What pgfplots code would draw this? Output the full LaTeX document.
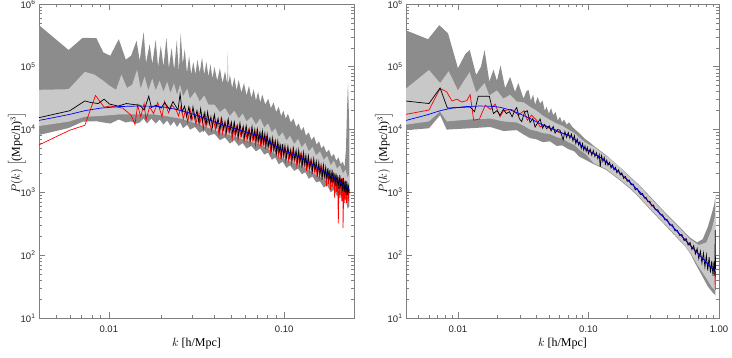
\documentclass[border=0pt]{standalone}
\usepackage{fontspec}
\setmainfont{Liberation Serif}
\newfontfamily\tickfont{Liberation Sans}
\usepackage{pgfplots}
\pgfplotsset{compat=1.18}
\usepgfplotslibrary{fillbetween}
\definecolor{bandout}{HTML}{8C8C8C}
\definecolor{bandin}{HTML}{C8C8C8}
\definecolor{frame}{HTML}{7F7F7F}
\pgfplotsset{
  pkaxis/.style={
    scale only axis, height=314pt,
    ymin=10, ymax=1e6,
    axis line style={frame, line width=0.7pt},
    tick style={frame, line width=0.6pt},
    major tick length=6pt, minor tick length=3.5pt,
    tick label style={font=\tickfont\fontsize{9.5}{10}\selectfont, black!85,
      /pgf/number format/assume math mode=true},
    xticklabel={\tickfont\pgfmathparse{exp(\tick)}\pgfmathprintnumber[fixed, fixed zerofill, precision=2]{\pgfmathresult}},
    yticklabel={\tickfont 10\textsuperscript{\pgfmathparse{int(round(\tick/ln(10)))}\pgfmathresult}},
    xticklabel style={yshift=-4pt},
    xlabel={$k$ [h/Mpc]},
    ylabel={$P(k)$ $\Bigl[$(Mpc/h)$^{3}\Bigr]$},
    label style={font=\fontsize{12}{14}\selectfont, inner sep=0pt},
    xlabel style={at={(axis description cs:0.5,-0.083)}, anchor=center},
    ylabel style={at={(axis description cs:-0.07,0.525)}, anchor=center},
    every axis plot/.append style={line width=0.7pt},
  }
}
\begin{document}
\begin{tikzpicture}
% ---------------- left panel ----------------
\begin{loglogaxis}[pkaxis, at={(39pt,39pt)}, anchor=south west, width=315pt,
  xmin=0.004, xmax=0.25]
\addplot[draw=none, name path=lou, forget plot] coordinates {
(0.004,4.6e5)(0.0059,1.85e5)(0.0071,2.9e5)(0.0085,2.85e5)(0.0093,1.7e5)(0.0102,1.5e5)(0.0114,2.75e5)(0.0125,1.3e5)(0.0134,1.5e5)(0.0144,2.6e5)(0.0150,1.25e5)(0.0158,3.6e5)(0.0163,1.15e5)(0.0171,2.3e5)(0.0177,1.1e5)(0.0185,2.7e5)(0.0191,1.0e5)(0.0198,2.2e5)(0.0205,1.0e5)(0.0213,2.9e5)(0.0220,9.5e4)(0.0228,2.0e5)(0.0236,9e4)(0.0244,2.6e5)(0.0251,8.5e4)(0.0257,3.4e5)(0.0264,1.1e5)(0.0271,1.9e5)(0.0279,8e4)(0.0287,1.5e5)(0.0295,7.5e4)(0.0303,1.2e5)(0.0312,7.5e4)(0.0320,1.3e5)(0.0330,8e4)(0.0340,1.4e5)(0.035,7.5e4)(0.036,1.2e5)(0.037,7e4)(0.038,1.1e5)(0.039,6.5e4)(0.040,1.0e5)(0.0415,6e4)(0.043,9.5e4)(0.0445,5.5e4)(0.046,8.5e4)(0.0474,5.2e4)(0.0477,1.7e5)(0.0480,5.2e4)(0.049,7.5e4)(0.0505,4.6e4)(0.052,6.8e4)(0.0535,4.2e4)(0.055,6.2e4)(0.057,3.9e4)(0.059,5.5e4)(0.061,3.5e4)(0.063,5e4)(0.065,3.2e4)(0.067,4.4e4)(0.069,2.9e4)(0.071,4e4)(0.073,2.7e4)(0.075,3.6e4)(0.078,2.5e4)(0.081,3.1e4)(0.084,2.2e4)(0.087,2.7e4)(0.090,1.9e4)(0.093,2.3e4)(0.096,1.65e4)(0.099,2.0e4)(0.102,1.5e4)(0.105,1.8e4)(0.109,1.3e4)(0.113,1.5e4)(0.117,1.1e4)(0.121,1.25e4)(0.125,9.5e3)(0.129,1.1e4)(0.133,8e3)(0.138,9e3)(0.143,6.8e3)(0.148,7.8e3)(0.153,5.8e3)(0.158,6.5e3)(0.163,5e3)(0.168,5.6e3)(0.174,4.3e3)(0.180,4.8e3)(0.186,3.7e3)(0.192,4.1e3)(0.198,3.2e3)(0.204,3.6e3)(0.210,2.8e3)(0.216,3.1e3)(0.221,2.5e3)(0.225,5e3)(0.228,2e4)(0.231,5.5e4)(0.233,2.5e4)(0.235,1.0e4)};
\addplot[draw=none, name path=lol, forget plot] coordinates {
(0.004,8.2e3)(0.0059,1.06e4)(0.0071,1.34e4)(0.0085,1.36e4)(0.0093,1.3e4)(0.0102,1.25e4)(0.0114,1.45e4)(0.0125,1.3e4)(0.0134,1.35e4)(0.0144,1.25e4)(0.0150,1.3e4)(0.0158,1.5e4)(0.0165,1.25e4)(0.0175,1.5e4)(0.0185,1.25e4)(0.0195,1.45e4)(0.0205,1.2e4)(0.0215,1.4e4)(0.0225,1.15e4)(0.0235,1.35e4)(0.0245,1.1e4)(0.0255,1.3e4)(0.0265,1.05e4)(0.028,1.2e4)(0.029,1.0e4)(0.031,1.1e4)(0.033,8.9e3)(0.035,9.8e3)(0.037,8e3)(0.040,8.6e3)(0.043,6.8e3)(0.046,7.5e3)(0.049,6e3)(0.052,6.8e3)(0.055,5.5e3)(0.058,6.1e3)(0.061,5e3)(0.065,5.5e3)(0.069,4.5e3)(0.073,5.0e3)(0.077,4.0e3)(0.081,4.3e3)(0.085,3.3e3)(0.089,3.6e3)(0.093,2.8e3)(0.098,3.1e3)(0.103,2.45e3)(0.108,2.7e3)(0.114,2.2e3)(0.12,2.4e3)(0.126,1.95e3)(0.132,2.1e3)(0.138,1.65e3)(0.145,1.8e3)(0.152,1.45e3)(0.16,1.5e3)(0.168,1.2e3)(0.176,1.3e3)(0.184,1.0e3)(0.192,1.1e3)(0.2,8.7e2)(0.208,9.4e2)(0.216,7.4e2)(0.224,7.9e2)(0.23,5.5e2)(0.235,6e2)};
\addplot[bandout, draw=none, forget plot] fill between[of=lou and lol];
\addplot[draw=none, name path=liu, forget plot] coordinates {
(0.004,4.3e4)(0.0059,4.4e4)(0.0073,8.3e4)(0.0083,7.5e4)(0.0093,6.0e4)(0.0101,5e4)(0.0110,4.3e4)(0.0118,7.5e4)(0.0127,4.6e4)(0.0136,5.2e4)(0.0145,9e4)(0.0152,4.5e4)(0.0160,7e4)(0.0168,4.2e4)(0.0177,6.5e4)(0.0185,4.2e4)(0.0195,6e4)(0.0205,4e4)(0.0215,5.8e4)(0.0225,3.8e4)(0.0235,5.5e4)(0.0245,3.6e4)(0.0255,5.2e4)(0.0265,3.4e4)(0.028,4.5e4)(0.029,3.1e4)(0.031,4e4)(0.033,2.8e4)(0.035,3.5e4)(0.037,2.5e4)(0.040,2.5e4)(0.043,1.9e4)(0.046,2.2e4)(0.049,1.65e4)(0.052,2.0e4)(0.055,1.5e4)(0.058,1.8e4)(0.061,1.35e4)(0.065,1.6e4)(0.069,1.2e4)(0.073,1.5e4)(0.077,1.08e4)(0.081,1.25e4)(0.085,9e3)(0.089,1.05e4)(0.093,7.7e3)(0.098,9e3)(0.103,6.7e3)(0.108,8e3)(0.114,5.9e3)(0.12,7.1e3)(0.126,5.2e3)(0.132,6.2e3)(0.138,4.5e3)(0.145,5.3e3)(0.152,3.9e3)(0.16,4.5e3)(0.168,3.3e3)(0.176,3.8e3)(0.184,2.7e3)(0.192,3.2e3)(0.2,2.4e3)(0.208,2.7e3)(0.216,2.0e3)(0.224,2.3e3)(0.23,1.7e3)(0.235,2e3)};
\addplot[draw=none, name path=lil, forget plot] coordinates {
(0.004,1.14e4)(0.0059,1.34e4)(0.0073,1.6e4)(0.009,1.65e4)(0.0116,1.75e4)(0.0145,1.75e4)(0.018,1.75e4)(0.021,1.65e4)(0.0255,1.5e4)(0.029,1.35e4)(0.033,1.2e4)(0.04,9.8e3)(0.045,8.7e3)(0.05,8e3)(0.056,7.2e3)(0.063,6.5e3)(0.073,5.8e3)(0.083,4.7e3)(0.091,3.85e3)(0.1,3.4e3)(0.108,3.1e3)(0.12,2.8e3)(0.128,2.55e3)(0.14,2.2e3)(0.16,1.75e3)(0.172,1.55e3)(0.19,1.28e3)(0.21,1.04e3)(0.229,8.5e2)(0.235,8e2)};
\addplot[bandin, draw=none, forget plot] fill between[of=liu and lil];
% red
\addplot[red] coordinates {
(0.004,5.7e3)(0.006,9.8e3)(0.0073,1.17e4)(0.0084,3.5e4)(0.0094,2.27e4)(0.0101,2.37e4)(0.011,2.3e4)(0.012,2.2e4)(0.0134,1.7e4)(0.0141,1.2e4)(0.0146,2.45e4)(0.0152,1.6e4)(0.0159,2.6e4)(0.0163,1.41e4)(0.0171,2.3e4)(0.018,1.8e4)(0.019,2.7e4)(0.0201,1.6e4)(0.0208,2.8e4)(0.0219,1.85e4)(0.0229,2.45e4)(0.0242,2.05e4)
(0.0250,1.65e4)(0.0258,2.35e4)(0.0266,1.48e4)(0.0274,2.1e4)(0.0282,1.3e4)(0.029,2.2e4)(0.0298,1.42e4)(0.0306,1.9e4)(0.0314,1.2e4)(0.0322,1.9e4)(0.033,1.22e4)(0.0338,1.75e4)(0.0346,1.0e4)(0.0354,1.82e4)(0.0362,1.18e4)(0.037,1.6e4)(0.0385,9.7e3)(0.0395,1.55e4)(0.0405,9.9e3)(0.0415,1.4e4)(0.0425,8.1e3)(0.0435,1.4e4)(0.0445,8.9e3)(0.0455,1.28e4)(0.0465,8e3)(0.0475,1.35e4)(0.0485,8.8e3)(0.0495,1.2e4)(0.0505,7e3)(0.0515,1.2e4)(0.0525,7.7e3)(0.0535,1.1e4)(0.0545,6.9e3)(0.0555,1.18e4)(0.0566,7.7e3)(0.0578,1.04e4)(0.059,6.5e3)(0.0602,1.05e4)(0.0614,6.7e3)(0.0626,9.7e3)(0.0638,6.1e3)(0.065,1.03e4)(0.0662,6.8e3)(0.0674,9.2e3)(0.0686,5.7e3)(0.0698,9.2e3)(0.071,5.9e3)(0.0722,8.6e3)(0.0734,5.4e3)(0.0746,9e3)(0.0758,5.8e3)(0.077,7.9e3)(0.0782,4.9e3)(0.0794,7.9e3)(0.0808,5.0e3)(0.0823,7.0e3)(0.0838,4.3e3)(0.0853,7.0e3)(0.0868,4.6e3)(0.0883,6.1e3)(0.0898,3.8e3)(0.0913,6.0e3)(0.0928,3.85e3)(0.0943,5.5e3)(0.0958,3.4e3)(0.0973,5.7e3)(0.0988,3.75e3)(0.1003,5.0e3)(0.102,3.15e3)(0.104,5.0e3)(0.106,3.2e3)(0.108,4.6e3)(0.110,2.9e3)(0.112,4.8e3)(0.114,3.15e3)(0.116,4.3e3)(0.118,2.7e3)(0.120,4.3e3)(0.122,2.75e3)(0.124,3.95e3)(0.126,2.45e3)(0.128,4.1e3)(0.130,2.65e3)(0.132,3.6e3)(0.134,2.2e3)(0.1365,3.5e3)(0.139,2.25e3)(0.1415,3.2e3)(0.144,1.98e3)(0.1465,3.25e3)(0.149,2.15e3)(0.1515,2.85e3)(0.154,1.75e3)(0.1565,2.8e3)(0.159,1.78e3)(0.1615,2.55e3)(0.164,1.58e3)(0.1665,2.65e3)(0.169,1.72e3)(0.1715,2.3e3)(0.174,1.25e3)(0.1765,2.3e3)(0.179,1.35e3)(0.1815,2.25e3)(0.184,1.1e3)(0.1865,2.05e3)(0.189,1.22e3)(0.1915,2.1e3)(0.194,8.2e2)(0.1965,1.9e3)(0.199,1.02e3)(0.2015,1.87e3)(0.2035,3.2e2)(0.2055,1.75e3)(0.208,8.2e2)(0.2105,1.7e3)(0.213,7.3e2)(0.2155,1.7e3)(0.2165,2.7e2)(0.219,1.55e3)(0.2215,6.8e2)(0.224,1.55e3)(0.2265,6.8e2)(0.229,1.35e3)(0.2315,7.2e2)(0.234,1.1e3)};
% black
\addplot[black] coordinates {
(0.004,1.55e4)(0.006,2.0e4)(0.0073,2.86e4)(0.0079,2.7e4)(0.0087,2.6e4)(0.0094,3.05e4)(0.0101,2.55e4)(0.0113,2.37e4)(0.0126,2.6e4)(0.014,2.5e4)(0.015,2.45e4)(0.0159,2.05e4)(0.0169,3.4e4)(0.0175,2.25e4)(0.0186,2.45e4)(0.0199,2.2e4)(0.0208,2.7e4)(0.0222,2.1e4)(0.0232,2.8e4)(0.0248,2.05e4)
(0.0255,3.7e4)(0.0262,1.9e4)(0.0270,2.35e4)(0.0278,1.6e4)(0.0286,2.3e4)(0.0294,1.45e4)(0.0302,2.3e4)(0.031,1.47e4)(0.0318,2.0e4)(0.0326,1.3e4)(0.0334,2.15e4)(0.0342,1.33e4)(0.035,1.84e4)(0.0358,1.18e4)(0.0366,1.9e4)(0.0374,1.22e4)(0.0382,1.6e4)(0.039,1.1e4)(0.040,1.73e4)(0.041,1.1e4)(0.042,1.5e4)(0.043,9.7e3)(0.044,1.52e4)(0.045,1.0e4)(0.046,1.33e4)(0.047,9.1e3)(0.048,1.45e4)(0.049,9.3e3)(0.050,1.3e4)(0.051,8.5e3)(0.052,1.3e4)(0.053,8.7e3)(0.054,1.16e4)(0.055,7.9e3)(0.056,1.25e4)(0.0572,8.1e3)(0.0584,1.12e4)(0.0596,7.4e3)(0.0608,1.13e4)(0.062,7.6e3)(0.0632,1.01e4)(0.0644,6.9e3)(0.0656,1.1e4)(0.0668,7.1e3)(0.068,1.0e4)(0.0692,6.7e3)(0.0704,1.0e4)(0.0716,6.7e3)(0.0728,9e3)(0.074,6.1e3)(0.0752,9.3e3)(0.0764,6.1e3)(0.0776,8.6e3)(0.0788,5.6e3)(0.080,8.4e3)(0.0815,5.5e3)(0.083,7.2e3)(0.0845,4.8e3)(0.086,7.3e3)(0.0875,4.8e3)(0.089,6.6e3)(0.0905,4.2e3)(0.092,6.5e3)(0.0935,4.3e3)(0.095,5.6e3)(0.0965,3.8e3)(0.098,5.9e3)(0.0995,3.9e3)(0.101,5.5e3)(0.103,3.6e3)(0.105,5.4e3)(0.107,3.6e3)(0.109,4.8e3)(0.111,3.3e3)(0.113,5.0e3)(0.115,3.3e3)(0.117,4.6e3)(0.119,3.05e3)(0.121,4.7e3)(0.123,3.1e3)(0.125,4.1e3)(0.127,2.8e3)(0.129,4.3e3)(0.131,2.8e3)(0.133,3.85e3)(0.135,2.5e3)(0.1375,3.8e3)(0.14,2.5e3)(0.1425,3.3e3)(0.145,2.2e3)(0.1475,3.4e3)(0.15,2.25e3)(0.1525,3.1e3)(0.155,2.0e3)(0.1575,3.0e3)(0.16,2.0e3)(0.1625,2.65e3)(0.165,1.78e3)(0.1675,2.7e3)(0.17,1.8e3)(0.1725,2.5e3)(0.175,1.62e3)(0.1775,2.45e3)(0.18,1.63e3)(0.1825,2.15e3)(0.185,1.4e3)(0.1875,2.3e3)(0.19,1.46e3)(0.1925,2.0e3)(0.195,1.3e3)(0.1975,2.0e3)(0.2,1.33e3)(0.2025,1.77e3)(0.205,1.13e3)(0.2075,1.9e3)(0.21,1.2e3)(0.2125,1.65e3)(0.215,1.05e3)(0.2175,1.7e3)(0.22,1.02e3)(0.2225,1.5e3)(0.225,9.1e2)(0.2275,1.5e3)(0.23,9.1e2)(0.2325,1.25e3)(0.235,9.7e2)};
% blue
\addplot[blue] coordinates {
(0.004,1.40e4)(0.005,1.58e4)(0.006,1.75e4)(0.0073,2.0e4)(0.009,2.2e4)(0.0116,2.33e4)(0.0145,2.37e4)(0.018,2.36e4)(0.021,2.27e4)(0.025,2.06e4)(0.029,1.83e4)(0.033,1.62e4)(0.037,1.45e4)(0.040,1.33e4)(0.045,1.18e4)(0.050,1.08e4)(0.056,9.8e3)(0.063,8.8e3)(0.068,8.3e3)(0.073,7.8e3)(0.078,7.1e3)(0.083,6.3e3)(0.088,5.6e3)(0.093,5.1e3)(0.1,4.6e3)(0.108,4.2e3)(0.116,3.9e3)(0.124,3.6e3)(0.132,3.25e3)(0.14,2.95e3)(0.15,2.65e3)(0.16,2.35e3)(0.17,2.13e3)(0.18,1.92e3)(0.19,1.72e3)(0.2,1.57e3)(0.21,1.42e3)(0.22,1.3e3)(0.23,1.17e3)(0.235,1.1e3)};
\end{loglogaxis}
% ---------------- right panel ----------------
\begin{loglogaxis}[pkaxis, at={(406pt,39pt)}, anchor=south west, width=313pt,
  xmin=0.004, xmax=1.0]
\addplot[draw=none, name path=rou, forget plot] coordinates {
(0.004,3.8e5)(0.0059,2.75e5)(0.0072,4.6e5)(0.0084,3.4e5)(0.0100,9.5e4)(0.0114,1.6e5)(0.0123,1.85e5)(0.0138,7.4e4)(0.0150,1.0e5)(0.0160,1.85e5)(0.0174,5.8e4)(0.0187,9e4)(0.0199,6e4)(0.0212,1.05e5)(0.023,4.55e4)(0.0251,6.9e4)(0.0274,4.0e4)(0.029,5.5e4)(0.0318,3.1e4)(0.0333,4.0e4)(0.0347,4.3e4)(0.0362,2.9e4)(0.0377,3.6e4)(0.039,2.5e4)(0.0408,3.3e4)(0.0426,2.6e4)(0.0445,2.9e4)(0.0462,2.0e4)(0.0478,2.3e4)(0.0497,1.8e4)(0.0517,2.2e4)(0.0537,1.7e4)(0.056,1.9e4)(0.0582,1.4e4)(0.0605,1.6e4)(0.0628,1.3e4)(0.065,1.45e4)(0.068,1.2e4)(0.071,1.3e4)(0.0754,1.1e4)(0.08,9.8e3)(0.085,8.8e3)(0.09,7.8e3)(0.095,7.0e3)(0.101,6.4e3)(0.11,5.5e3)(0.12,4.8e3)(0.136,3.95e3)(0.155,3.1e3)(0.181,2.35e3)(0.21,1.75e3)(0.244,1.32e3)(0.3,8.4e2)(0.39,4.7e2)(0.5,2.8e2)(0.6,1.9e2)(0.68,1.6e2)(0.75,1.8e2)(0.82,2.8e2)(0.88,4.6e2)(0.92,6.5e2)(0.94,9e2)};
\addplot[draw=none, name path=rol, forget plot] coordinates {
(0.004,9.8e3)(0.006,1.05e4)(0.0073,1.7e4)(0.0082,1.0e4)(0.0124,1.05e4)(0.0177,1.1e4)(0.0223,9.5e3)(0.0282,9.8e3)(0.032,8.3e3)(0.0357,7.3e3)(0.04,7e3)(0.0448,6.3e3)(0.0507,6.5e3)(0.057,5.5e3)(0.063,5.6e3)(0.07,4.9e3)(0.078,4.5e3)(0.085,3.7e3)(0.095,3.3e3)(0.11,2.8e3)(0.136,2.3e3)(0.17,1.62e3)(0.21,1.13e3)(0.244,8.3e2)(0.3,5.2e2)(0.39,2.95e2)(0.5,1.7e2)(0.554,1.35e2)(0.6,1.08e2)(0.66,7.3e1)(0.742,4.7e1)(0.82,3.2e1)(0.9,2.5e1)(0.94,2.3e1)};
\addplot[bandout, draw=none, forget plot] fill between[of=rou and rol];
\addplot[draw=none, name path=riu, forget plot] coordinates {
(0.004,4.5e4)(0.006,8.9e4)(0.0073,5.5e4)(0.0085,8.5e4)(0.01,4.2e4)(0.0114,6.5e4)(0.0123,8.2e4)(0.0138,3.9e4)(0.016,5.5e4)(0.0174,3.5e4)(0.0199,4.2e4)(0.0223,3.1e4)(0.0251,3.6e4)(0.0282,2.8e4)(0.032,2.7e4)(0.0357,2.3e4)(0.04,2.0e4)(0.045,1.65e4)(0.05,1.45e4)(0.057,1.25e4)(0.063,1.15e4)(0.07,1.0e4)(0.078,8.8e3)(0.085,7.5e3)(0.095,6.2e3)(0.11,5.3e3)(0.136,3.85e3)(0.17,2.65e3)(0.21,1.7e3)(0.244,1.28e3)(0.3,8.1e2)(0.39,4.55e2)(0.5,2.7e2)(0.6,1.8e2)(0.7,1.45e2)(0.8,1.6e2)(0.88,2.6e2)(0.94,4.5e2)};
\addplot[draw=none, name path=ril, forget plot] coordinates {
(0.004,1.2e4)(0.006,1.35e4)(0.0073,1.95e4)(0.0082,1.35e4)(0.0124,1.45e4)(0.0177,1.5e4)(0.0223,1.35e4)(0.0282,1.3e4)(0.032,1.15e4)(0.0357,1.0e4)(0.04,9.5e3)(0.0448,8.8e3)(0.0507,8.5e3)(0.057,7.6e3)(0.063,7.2e3)(0.07,6.3e3)(0.078,5.7e3)(0.085,4.8e3)(0.095,4.1e3)(0.11,2.9e3)(0.136,2.38e3)(0.17,1.67e3)(0.21,1.17e3)(0.244,8.6e2)(0.3,5.4e2)(0.39,3.05e2)(0.5,1.76e2)(0.6,1.12e2)(0.7,6.5e1)(0.8,4.3e1)(0.88,3.1e1)(0.94,2.7e1)};
\addplot[bandin, draw=none, forget plot] fill between[of=riu and ril];
% red
\addplot[red] coordinates {
(0.004,1.75e4)(0.006,2.05e4)(0.0073,4.5e4)(0.0082,4.0e4)(0.009,2.85e4)(0.0098,3.05e4)(0.0107,2.75e4)(0.0117,2.9e4)(0.0124,3.6e4)(0.0132,1.41e4)(0.0146,1.47e4)(0.0162,2.45e4)(0.0177,2.1e4)(0.0193,2.55e4)(0.021,1.6e4)(0.0223,2.0e4)(0.0258,2.1e4)(0.029,1.7e4)(0.0321,2.0e4)(0.034,1.41e4)(0.0367,1.7e4)(0.0401,1.4e4)(0.0426,1.1e4)(0.046,1.2e4)(0.05,1.05e4)(0.055,1.0e4)(0.06,8.9e3)(0.065,8.6e3)(0.07,8.1e3)(0.075,7.5e3)(0.08,6.7e3)(0.09,5.4e3)(0.1,4.6e3)(0.12,3.75e3)(0.14,2.95e3)(0.17,2.13e3)(0.2,1.57e3)(0.244,1.05e3)(0.3,6.5e2)(0.4,3.5e2)(0.5,2.17e2)(0.6,1.45e2)(0.7,1.03e2)(0.8,7.7e1)(0.9,5.9e1)(0.93,5.5e1)(0.935,2.8e1)(0.94,5.5e1)};
% black
\addplot[black] coordinates {
(0.004,2.85e4)(0.006,2.6e4)(0.0073,4.6e4)(0.0083,2.2e4)(0.0124,2.3e4)(0.0134,1.93e4)(0.0143,3.4e4)(0.0174,3.4e4)(0.0187,1.8e4)(0.0199,2.0e4)(0.021,1.7e4)(0.0223,2.1e4)(0.0235,1.8e4)(0.0248,1.93e4)(0.026,1.6e4)(0.0272,2.0e4)(0.0282,2.25e4)(0.0295,1.5e4)(0.0308,1.34e4)(0.0324,1.9e4)(0.034,2.0e4)(0.0357,1.3e4)(0.0375,1.5e4)(0.039,1.1e4)(0.041,1.3e4)(0.0426,1.47e4)(0.0445,1.05e4)(0.046,1.2e4)(0.0478,1.03e4)(0.05,1.15e4)(0.0517,9.5e3)(0.0537,1.12e4)(0.0555,8.8e3)(0.058,1.0e4)(0.0605,9.8e3)(0.064,6.9e3)
(0.066,9.3e3)(0.068,7.5e3)(0.070,9.0e3)(0.072,7.3e3)(0.074,8.5e3)(0.076,6.6e3)(0.078,8.0e3)(0.080,6.0e3)(0.082,7.1e3)(0.084,5.7e3)(0.086,6.4e3)(0.088,5.0e3)(0.090,6.0e3)(0.092,4.7e3)(0.094,5.5e3)(0.096,4.5e3)(0.098,5.2e3)(0.100,4.15e3)(0.103,4.9e3)(0.106,3.9e3)(0.109,4.65e3)(0.112,3.72e3)(0.115,4.3e3)(0.118,3.45e3)(0.121,4.0e3)(0.123,2.55e3)(0.126,3.85e3)(0.129,3.1e3)(0.132,3.6e3)(0.135,2.8e3)(0.138,3.25e3)(0.141,2.7e3)(0.145,3.0e3)(0.149,2.45e3)(0.153,2.75e3)(0.157,2.28e3)(0.161,2.5e3)(0.165,2.05e3)(0.17,2.28e3)(0.175,1.9e3)(0.18,2.05e3)(0.186,1.67e3)(0.192,1.8e3)(0.198,1.5e3)(0.205,1.58e3)(0.212,1.32e3)(0.22,1.36e3)(0.228,1.1e3)(0.236,1.16e3)(0.244,1.0e3)
(0.252,9.2e2)(0.26,9.6e2)(0.268,8.1e2)(0.276,8.4e2)(0.285,7.1e2)(0.295,7.25e2)(0.305,6.1e2)(0.315,6.3e2)(0.325,5.3e2)(0.34,5.3e2)(0.355,4.4e2)(0.37,4.4e2)(0.385,3.65e2)(0.4,3.7e2)(0.42,3.0e2)(0.44,3.05e2)(0.46,2.45e2)(0.48,2.5e2)(0.5,2.05e2)(0.52,2.14e2)(0.54,1.71e2)(0.56,1.84e2)(0.58,1.45e2)(0.6,1.6e2)(0.62,1.23e2)(0.64,1.42e2)(0.66,1.05e2)(0.68,1.28e2)(0.70,8.8e1)(0.72,1.16e2)(0.74,7.5e1)(0.76,1.08e2)(0.78,6.5e1)(0.80,1.0e2)(0.82,5.7e1)(0.84,9.3e1)(0.86,5.3e1)(0.88,8.1e1)(0.90,4.7e1)(0.915,8e1)(0.93,4.7e1)(0.935,2.5e2)(0.94,6e1)};
% blue
\addplot[blue] coordinates {
(0.004,1.40e4)(0.005,1.58e4)(0.006,1.75e4)(0.0073,2.0e4)(0.009,2.2e4)(0.0116,2.33e4)(0.0145,2.37e4)(0.018,2.36e4)(0.021,2.27e4)(0.025,2.06e4)(0.029,1.83e4)(0.033,1.62e4)(0.037,1.45e4)(0.040,1.33e4)(0.045,1.18e4)(0.050,1.08e4)(0.056,9.8e3)(0.063,8.8e3)(0.068,8.3e3)(0.073,7.8e3)(0.078,7.1e3)(0.083,6.3e3)(0.088,5.6e3)(0.093,5.1e3)(0.1,4.6e3)(0.108,4.2e3)(0.116,3.9e3)(0.124,3.6e3)(0.132,3.25e3)(0.14,2.95e3)(0.15,2.65e3)(0.16,2.35e3)(0.17,2.13e3)(0.18,1.92e3)(0.19,1.72e3)(0.2,1.57e3)(0.21,1.42e3)(0.22,1.3e3)(0.23,1.17e3)(0.244,1.05e3)(0.27,8.3e2)(0.3,6.6e2)(0.33,5.3e2)(0.36,4.4e2)(0.39,3.75e2)(0.42,3.18e2)(0.46,2.6e2)(0.5,2.17e2)(0.55,1.76e2)(0.6,1.45e2)(0.65,1.22e2)(0.7,1.03e2)(0.75,8.9e1)(0.8,7.7e1)(0.85,6.7e1)(0.9,5.9e1)(0.94,5.4e1)};
\end{loglogaxis}
\pgfresetboundingbox
\path[use as bounding box] (0,0) rectangle (732pt,357pt);
\end{tikzpicture}
\end{document}
